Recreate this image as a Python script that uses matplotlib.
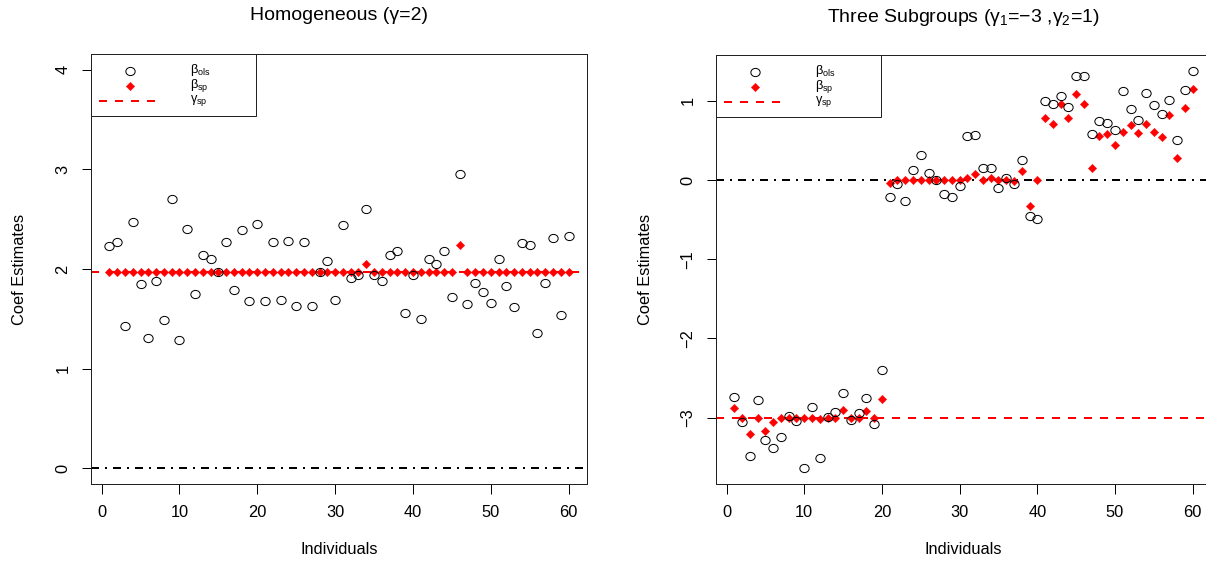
import numpy as np
import matplotlib
matplotlib.use("Agg")
import matplotlib.pyplot as plt
from matplotlib.path import Path
from matplotlib.patches import Rectangle

# ---------------- data ----------------
individuals = list(range(1, 61))

homog_ols = [2.228, 2.268, 1.424, 2.475, 1.846, 1.304, 1.882, 1.490, 2.701, 1.286,
             2.399, 1.746, 2.138, 2.098, 1.967, 2.274, 1.789, 2.389, 1.681, 2.455,
             1.681, 2.274, 1.688, 2.284, 1.631, 2.274, 1.631, 1.967, 2.077, 1.685,
             2.445, 1.907, 1.940, 2.603, 1.940, 1.882, 2.138, 2.181, 1.558, 1.940,
             1.497, 2.104, 2.047, 2.181, 1.722, 2.958, 1.648, 1.856, 1.772, 1.658,
             2.098, 1.826, 1.615, 2.258, 2.238, 1.354, 1.856, 2.315, 1.535, 2.332]
homog_sp = [1.967] * 33 + [2.050] + [1.967] * 11 + [2.244] + [1.967] * 14
homog_gamma = 1.967

sub_ols = [-2.735, -3.063, -3.480, -2.778, -3.287, -3.388, -3.249, -2.980, -3.047, -3.637,
           -2.870, -3.506, -2.996, -2.929, -2.684, -3.034, -2.946, -2.756, -3.085, -2.406,
           -0.215, -0.051, -0.265, 0.130, 0.312, 0.092, 0.004, -0.181, -0.215, -0.072,
           0.552, 0.565, 0.155, 0.148, -0.101, 0.021, -0.054, 0.253, -0.459, -0.489,
           0.999, 0.957, 1.066, 0.927, 1.319, 1.319, 0.585, 0.746, 0.724, 0.636,
           1.121, 0.898, 0.755, 1.100, 0.948, 0.834, 1.011, 0.506, 1.138, 1.382]
sub_sp = [-2.882, -3.0, -3.207, -3.0, -3.173, -3.059, -3.0, -3.0, -3.0, -3.0,
          -3.0, -3.013, -3.0, -3.0, -2.899, -3.0, -3.0, -2.921, -3.0, -2.765,
          -0.038, 0.0, 0.0, 0.0, 0.0, 0.0, 0.0, 0.0, 0.0, 0.0,
          0.029, 0.076, 0.0, 0.025, 0.0, 0.0, -0.009, 0.118, -0.332, 0.0,
          0.788, 0.704, 0.957, 0.788, 1.091, 0.961, 0.155, 0.556, 0.578, 0.446,
          0.603, 0.699, 0.590, 0.712, 0.611, 0.540, 0.822, 0.282, 0.914, 1.147]
sub_gamma = -3.0

xticks = [0, 10, 20, 30, 40, 50, 60]
left_yticks = [0, 1, 2, 3, 4]
right_yticks = [-3, -2, -1, 0, 1]

titles = ["Homogeneous (\u03b3=2)",
          r"Three Subgroups ($\gamma_1$=$-$3 ,$\gamma_2$=1)"]
legend_labels = [r"$\beta_{ols}$", r"$\beta_{sp}$", r"$\gamma_{sp}$"]

# ---------------- style ----------------
plt.rcParams["font.family"] = ["Liberation Sans", "DejaVu Sans"]
plt.rcParams["mathtext.fontset"] = "custom"
plt.rcParams["mathtext.rm"] = "Liberation Sans"
plt.rcParams["mathtext.it"] = "Liberation Sans"
plt.rcParams["mathtext.bf"] = "Liberation Sans"
plt.rcParams["mathtext.sf"] = "Liberation Sans"
plt.rcParams["mathtext.default"] = "regular"
plt.rcParams["lines.scale_dashes"] = False

PX = 0.72  # points per pixel at dpi 100

circ = Path.unit_circle()
ellipse_marker = Path(circ.vertices * np.array([1.0, 0.88]), circ.codes)
diamond_marker = Path([(0, 1), (1, 0), (0, -1), (-1, 0), (0, 1)],
                      [Path.MOVETO, Path.LINETO, Path.LINETO, Path.LINETO, Path.CLOSEPOLY])

RED = "#FF0000"
dash_red = (0, (8 * PX, 8 * PX))
dotdash = (0, (8 * PX, 6 * PX, 2 * PX, 6 * PX))

fig = plt.figure(figsize=(12.06, 5.64), dpi=100)
W, H = 1206.0, 564.0
ax1 = fig.add_axes([91 / W, (H - 484) / H, 496 / W, 430 / H])
ax2 = fig.add_axes([716 / W, (H - 484) / H, 495 / W, 429 / H])


def draw_panel(ax, ols, sp, gamma, yticks, ylim, title):
    ax.axhline(0, color="black", lw=2 * PX, linestyle=dotdash, zorder=1)
    ax.axhline(gamma, color=RED, lw=2 * PX, linestyle=dash_red, zorder=1)
    ax.plot(individuals, ols, linestyle="none", marker=ellipse_marker, ms=9.3 * PX,
            mfc="none", mec="black", mew=1.0 * PX, zorder=3)
    ax.plot(individuals, sp, linestyle="none", marker=diamond_marker, ms=8.4 * PX,
            mfc=RED, mec=RED, mew=0.3, zorder=2)
    ax.set_xlim(-1.36, 62.36)
    ax.set_ylim(*ylim)
    ax.set_xticks(xticks)
    ax.set_yticks(yticks)
    ax.set_yticklabels([("\u2212" + str(-t)) if t < 0 else str(t) for t in yticks])
    ax.tick_params(axis="both", direction="out", length=9.5 * PX, width=1 * PX,
                   labelsize=11.8, color="black")
    ax.tick_params(axis="x", pad=8)
    ax.tick_params(axis="y", pad=8, labelrotation=90)
    for lab in ax.get_yticklabels():
        lab.set_verticalalignment("center")
    for sp_ in ax.spines.values():
        sp_.set_linewidth(1 * PX)
        sp_.set_color("#222222")
    ax.set_xlabel("Individuals", fontsize=11.8)
    ax.xaxis.set_label_coords(0.5, -66 / 430)
    ax.xaxis.label.set_verticalalignment("center")
    ax.set_ylabel("Coef Estimates", fontsize=11.8)
    ax.yaxis.set_label_coords(-71 / 496, 0.5)
    ax.yaxis.label.set_verticalalignment("center")
    ax.text(0.5, 1 + 38 / 430, title, transform=ax.transAxes, ha="center",
            va="center", fontsize=14)

    # legend (R style box in the top-left corner)
    tr = ax.transAxes
    ax.add_patch(Rectangle((0, 0.856), 0.333, 0.144, transform=tr, facecolor="white",
                           edgecolor="#222222", lw=1 * PX, zorder=5, clip_on=False))
    ax.plot([0.079], [0.960], transform=tr, marker=ellipse_marker, ms=9.3 * PX,
            mfc="none", mec="black", mew=1.0 * PX, zorder=6, clip_on=False)
    ax.plot([0.079], [0.926], transform=tr, marker=diamond_marker, ms=8.4 * PX,
            mfc=RED, mec=RED, mew=0.3, zorder=6, clip_on=False)
    ax.plot([0.016, 0.137], [0.891, 0.891], transform=tr, color=RED, lw=2 * PX,
            linestyle=dash_red, zorder=6, clip_on=False)
    for yy, lab in zip([0.962, 0.927, 0.891], legend_labels):
        ax.text(0.2, yy, lab, transform=tr, ha="left", va="center", fontsize=9.2,
                zorder=7)


draw_panel(ax1, homog_ols, homog_sp, homog_gamma, left_yticks, (-0.16, 4.16), titles[0])
draw_panel(ax2, sub_ols, sub_sp, sub_gamma, right_yticks, (-3.84, 1.58), titles[1])

fig.savefig("out.png", dpi=100)
